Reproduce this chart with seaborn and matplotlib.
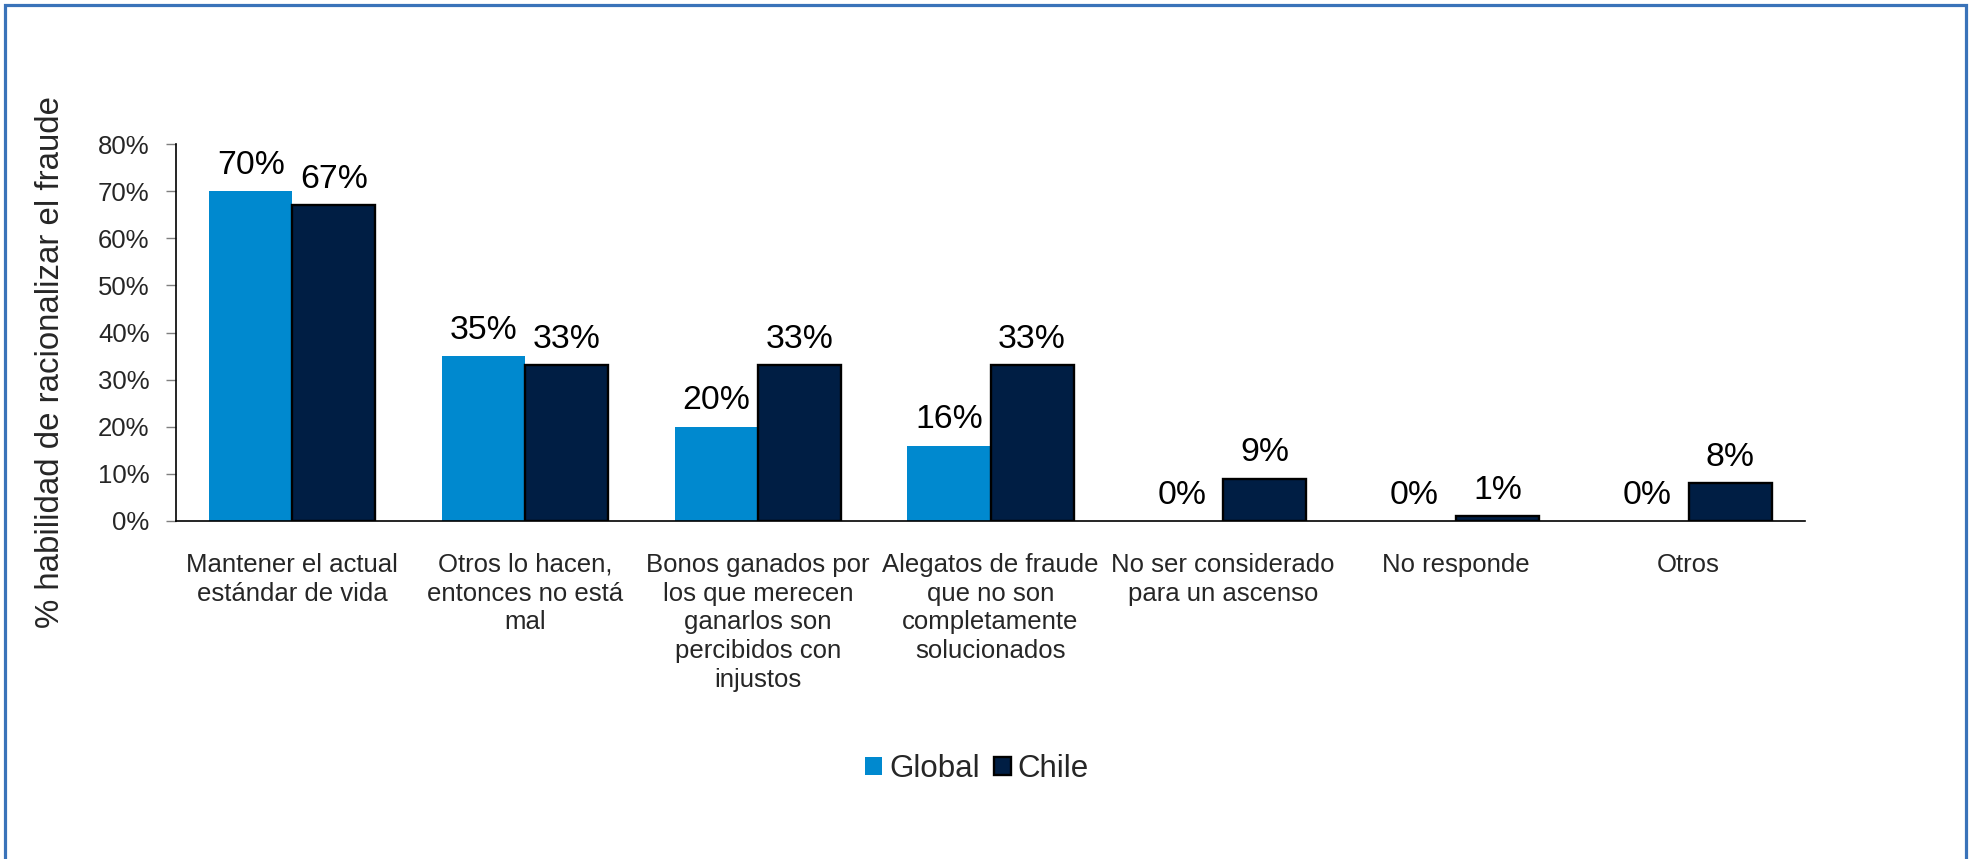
import matplotlib
matplotlib.use("Agg")
import matplotlib.pyplot as plt
from matplotlib.patches import Rectangle, Patch
from matplotlib.ticker import PercentFormatter, FixedLocator
import seaborn as sns
import pandas as pd

categories = [
    "Mantener el actual\nestándar de vida",
    "Otros lo hacen,\nentonces no está\nmal",
    "Bonos ganados por\nlos que merecen\nganarlos son\npercibidos con\ninjustos",
    "Alegatos de fraude\nque no son\ncompletamente\nsolucionados",
    "No ser considerado\npara un ascenso",
    "No responde",
    "Otros",
]
global_values = [0.70, 0.35, 0.20, 0.16, 0.00, 0.00, 0.00]
chile_values = [0.67, 0.33, 0.33, 0.33, 0.09, 0.01, 0.08]
series_names = ["Global", "Chile"]
y_label = "% habilidad de racionalizar el fraude"

df = pd.DataFrame({
    "categoria": categories * 2,
    "valor": global_values + chile_values,
    "serie": [series_names[0]] * len(categories) + [series_names[1]] * len(categories),
})

sns.set_style("white")
plt.rcParams["font.family"] = ["Liberation Sans", "DejaVu Sans"]

colors = {"Global": "#0089CF", "Chile": "#001E44"}

fig = plt.figure(figsize=(19.73, 8.59), dpi=100)
ax = fig.add_axes([176 / 1973, 1 - 521 / 859, (1805 - 176) / 1973, (521 - 144) / 859])

sns.barplot(data=df, x="categoria", y="valor", hue="serie", palette=colors,
            width=0.714, saturation=1, ax=ax, legend=False)

# Global bars without outline, Chile bars with a black outline
for patch in ax.containers[0]:
    patch.set_edgecolor("none")
    patch.set_linewidth(0)
for patch in ax.containers[1]:
    patch.set_edgecolor("black")
    patch.set_linewidth(1.7)

for container, vals in zip(ax.containers, [global_values, chile_values]):
    ax.bar_label(container, labels=[f"{v:.0%}" for v in vals],
                 padding=7.5, fontsize=24.3, color="black")

ax.set_ylim(0, 0.8)
ax.set_xlim(-0.5, len(categories) - 0.5)
ax.yaxis.set_major_locator(FixedLocator([i / 10 for i in range(9)]))
ax.yaxis.set_major_formatter(PercentFormatter(1.0, decimals=0))

ax.set_xticks(range(len(categories)))
ax.set_xticklabels(categories, fontsize=18.5, linespacing=1.25)
ax.set_xticks([i - 0.5 for i in range(len(categories) + 1)], minor=True)
ax.tick_params(axis="x", which="major", length=0, pad=23)
ax.tick_params(axis="x", which="minor", length=7, width=1, color="#7f7f7f", direction="out")
ax.tick_params(axis="y", which="major", length=7, width=1, color="#7f7f7f",
               direction="out", labelsize=18.5, pad=12, left=True)
ax.set_xlabel("")
ax.set_ylabel(y_label, fontsize=23.8)
ax.yaxis.set_label_coords((66 - 176) / 1629, (521 - 362) / 377)

for side in ("top", "right"):
    ax.spines[side].set_visible(False)
for side in ("left", "bottom"):
    ax.spines[side].set_color("black")
    ax.spines[side].set_linewidth(1.2)
ax.grid(False)

handles = [
    Patch(facecolor=colors["Global"], edgecolor="none"),
    Patch(facecolor=colors["Chile"], edgecolor="black", linewidth=1.7),
]
fig.legend(handles, series_names, loc="center", bbox_to_anchor=(977 / 1973, 1 - 769 / 859),
           ncol=2, frameon=False, fontsize=22.5, handlelength=0.55, handleheight=0.55,
           handletextpad=0.22, columnspacing=0.45, borderpad=0)

# Outer frame around the chart area
fig.patches.append(Rectangle((4.5 / 1973, -0.05), (1966 - 4.5) / 1973, 1.05 - 5 / 859,
                             transform=fig.transFigure, fill=False,
                             edgecolor="#3A73B9", linewidth=2.3))

fig.savefig("out.png", dpi=100, facecolor="white")
